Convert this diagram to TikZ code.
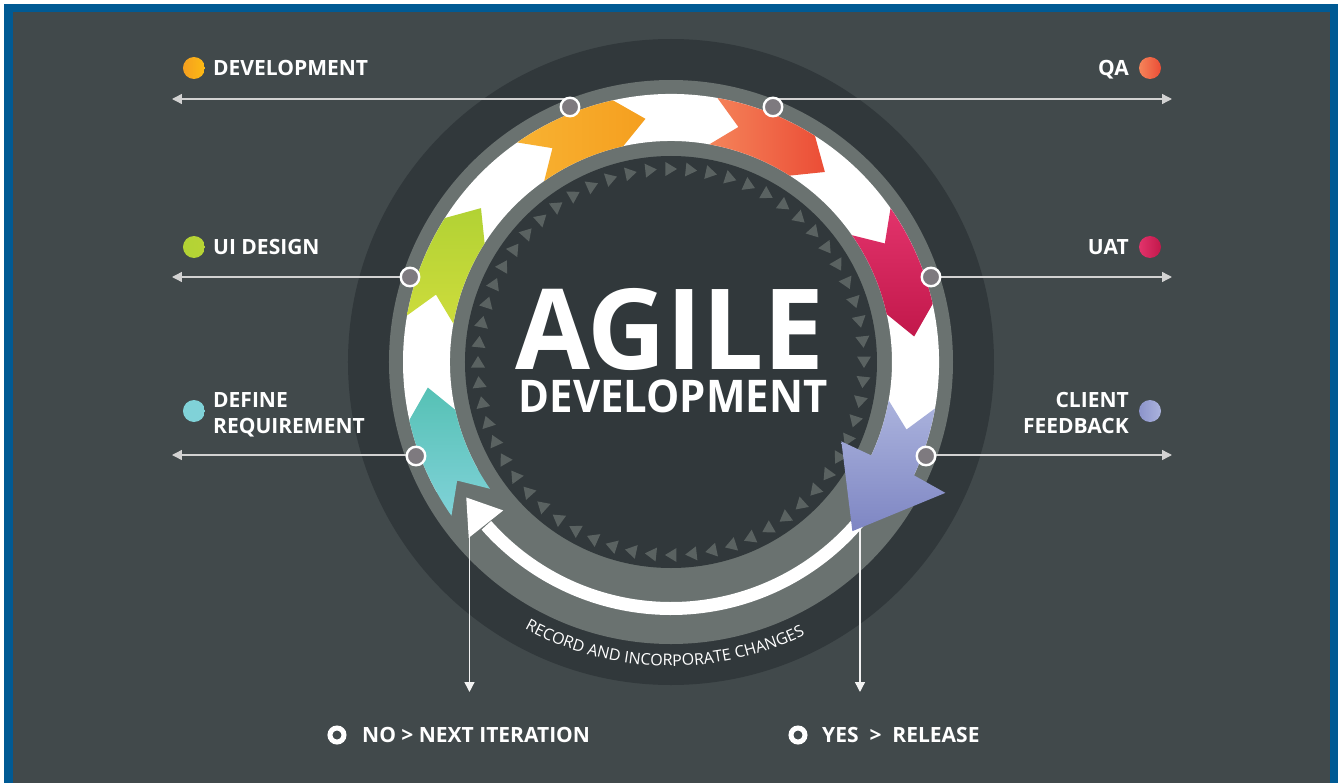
\documentclass[tikz,border=0pt]{standalone}
\usepackage{fontspec}
\usepackage{graphicx}
\setmainfont{Open Sans}
\usetikzlibrary{arrows.meta,decorations.text}
\definecolor{bgc}{HTML}{41494B}
\definecolor{framec}{HTML}{005A94}
\definecolor{darkc}{HTML}{31383B}
\definecolor{grayc}{HTML}{6A7270}
\definecolor{tric}{HTML}{5A6261}
\definecolor{dotc}{HTML}{7E7A7F}
\definecolor{linec}{HTML}{D2D2D2}
\definecolor{tealA}{HTML}{56C1B5}
\definecolor{tealB}{HTML}{80D2D8}
\definecolor{limeA}{HTML}{B2D234}
\definecolor{limeB}{HTML}{CDDC3C}
\definecolor{orA}{HTML}{F8B232}
\definecolor{orM}{HTML}{FDBB14}
\definecolor{orB}{HTML}{F59F1F}
\definecolor{qaA}{HTML}{F5845A}
\definecolor{qaB}{HTML}{EB4D36}
\definecolor{uaA}{HTML}{E2336B}
\definecolor{uaB}{HTML}{C2184B}
\definecolor{lvA}{HTML}{ABB3DD}
\definecolor{lvB}{HTML}{7E86C3}
\newcommand\curvefont{\fontsize{16}{16}\selectfont}
\tikzset{
  ringdot/.style={circle, fill=dotc, draw=white, line width=2.4pt, minimum size=18.5pt, inner sep=0pt},
  labline/.style={draw=linec, line width=1.4pt, -{Triangle[length=10pt,width=10pt]}},
  labtext/.style={text=white, inner sep=0pt, font=\bfseries\fontsize{21}{26}\selectfont},
  legdot/.style={circle, minimum size=22pt, inner sep=0pt},
  ringsym/.style={circle, draw=white, line width=5pt, minimum size=14pt, inner sep=0pt},
}
\begin{document}
\begin{tikzpicture}[x=1pt,y=1pt]
\useasboundingbox (-671,-420) rectangle (668,362);
\fill[white] (-671,-420) rectangle (668,362);
\fill[framec] (-667,-425) rectangle (667,358);
\fill[bgc] (-658,-425) rectangle (659,350);
% rings
\fill[darkc] (0,0) circle (323);
\fill[grayc] (0,0) circle (282);
\fill[white] (-25:268) arc[start angle=-25,end angle=209,radius=268] -- (209:221) arc[start angle=209,end angle=-25,radius=221] -- cycle;
\fill[darkc] (0,0) circle (206);
\foreach \a in {0,6,...,354}
  \fill[tric, rotate=\a] (193,-6) -- (186,5.5) -- (200,5.5) -- cycle;
% vertical arrows
\coordinate (noTop) at (221:267);
\coordinate (noEnd) at (-203,-330);
\coordinate (yesTop) at (189,-155);
\coordinate (yesEnd) at (189,-330);
\draw[labline, draw=white!90!gray] (noTop) -- (noTop |- noEnd);
\draw[labline, draw=white!90!gray] (yesTop) -- (yesEnd);
% return arrow
\draw[white, line width=13pt] (-36:246.5) arc[start angle=-36,end angle=-138.5,radius=246.5];
\fill[white] (221:268) -- (213.5:245.5) -- (221.5:224) -- cycle;
% phase arrows
\shade[top color=tealA, bottom color=tealB] (215:268) arc[start angle=215,end angle=192.5,radius=268] -- (186:244.5) -- (192.5:221) arc[start angle=192.5,end angle=215,radius=221] -- (209:244.5) -- cycle;
\shade[top color=limeA, bottom color=limeB] (170:268) arc[start angle=170,end angle=147.5,radius=268] -- (141:244.5) -- (147.5:221) arc[start angle=147.5,end angle=170,radius=221] -- (164:244.5) -- cycle;
\shade[left color=orA, middle color=orM, right color=orB] (125:268) arc[start angle=125,end angle=102.5,radius=268] -- (96:244.5) -- (102.5:221) arc[start angle=102.5,end angle=125,radius=221] -- (119:244.5) -- cycle;
\shade[left color=qaA, right color=qaB] (80:268) arc[start angle=80,end angle=57.5,radius=268] -- (51:244.5) -- (57.5:221) arc[start angle=57.5,end angle=80,radius=221] -- (74:244.5) -- cycle;
\shade[top color=uaA, bottom color=uaB] (35:268) arc[start angle=35,end angle=12.5,radius=268] -- (6:244.5) -- (12.5:221) arc[start angle=12.5,end angle=35,radius=221] -- (29:244.5) -- cycle;
\shade[top color=lvA, bottom color=lvB] (-10:268) arc[start angle=-10,end angle=-25,radius=268] -- (-25.5:304) -- (-43:248) -- (-25:188) -- (-25:221) arc[start angle=-25,end angle=-10,radius=221] -- (-16:245) -- cycle;
% label lines
\coordinate (devC) at (-101,255);
\coordinate (qaC) at (102,255);
\coordinate (uiC) at (-261,85);
\coordinate (uatC) at (260,85);
\coordinate (defC) at (-255,-94);
\coordinate (cliC) at (255,-94);
\coordinate (devEnd) at (-499,263);
\coordinate (qaEnd) at (501,263);
\coordinate (uiEnd) at (-499,85);
\coordinate (uatEnd) at (501,85);
\coordinate (defEnd) at (-499,-93);
\coordinate (cliEnd) at (501,-93);
\draw[labline] (devEnd -| devC) -- (devEnd);
\draw[labline] (qaEnd -| qaC) -- (qaEnd);
\draw[labline] (uiEnd -| uiC) -- (uiEnd);
\draw[labline] (uatEnd -| uatC) -- (uatEnd);
\draw[labline] (defEnd -| defC) -- (defEnd);
\draw[labline] (cliEnd -| cliC) -- (cliEnd);
\node[ringdot] (devDot) at (devC) {};
\node[ringdot] (qaDot) at (qaC) {};
\node[ringdot] (uiDot) at (uiC) {};
\node[ringdot] (uatDot) at (uatC) {};
\node[ringdot] (defDot) at (defC) {};
\node[ringdot] (cliDot) at (cliC) {};
% legend
\node[legdot, left color=orB, right color=orM] (devLeg) at (-477,294) {};
\node[legdot, left color=limeA, right color=limeA!80!limeB] (uiLeg) at (-477,115) {};
\node[legdot, left color=tealB, right color=tealB] (defLeg) at (-477,-49) {};
\node[legdot, left color=qaA, right color=qaB] (qaLeg) at (479,294) {};
\node[legdot, left color=uaA, right color=uaB] (uatLeg) at (479,115) {};
\node[legdot, left color=lvB!70!lvA, right color=lvA] (cliLeg) at (479,-49) {};
\node[labtext, anchor=base west] (devT) at (-458,286) {DEVELOPMENT};
\node[labtext, anchor=base west] (uiT) at (-458,107.5) {UI DESIGN};
\node[labtext, anchor=north west, align=left] (defT) at (-458,-30.5) {DEFINE\\REQUIREMENT};
\node[labtext, anchor=base east] (qaT) at (458,286) {QA};
\node[labtext, anchor=base east] (uatT) at (458,107.5) {UAT};
\node[labtext, anchor=north east, align=right] (cliT) at (458,-30.5) {CLIENT\\FEEDBACK};
% bottom
\node[ringsym] (noSym) at (-334,-373) {};
\node[labtext, anchor=base west] (noT) at (-309,-380.5) {NO > NEXT ITERATION};
\node[ringsym] (yesSym) at (127,-373) {};
\node[labtext, anchor=base west] (yesT) at (151,-380.5) {YES~~>~~RELEASE};
% curved text
\path[decorate, decoration={text along path, text align=center, text color=white, text={|\curvefont|RECORD AND INCORPORATE CHANGES}}] (238.7:304) arc[start angle=238.7,end angle=298.7,radius=304];
% title
\node[anchor=base, inner sep=0pt, text=white, font=\bfseries\fontsize{112}{112}\selectfont] (agile) at (-1,-7) {\scalebox{0.97}[1]{AGILE}};
\node[anchor=base, inner sep=0pt, text=white, font=\bfseries\fontsize{45}{45}\selectfont] (devTitle) at (2,-50) {\scalebox{0.93}[1]{DEVELOPMENT}};
\end{tikzpicture}
\end{document}
